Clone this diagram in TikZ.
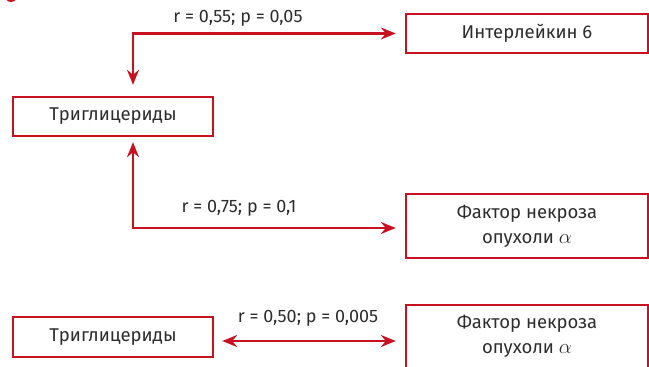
\documentclass[tikz,border=0pt]{standalone}
\usepackage{fontspec}
\setmainfont{Fira Sans}
\usetikzlibrary{arrows.meta}
\definecolor{boxred}{RGB}{200,18,34}
\definecolor{txt}{RGB}{45,45,45}
\newcommand{\alphabig}{{\fontsize{22}{25}\selectfont$\alpha$}}
\tikzset{
  box/.style={draw=boxred, line width=2.4pt, minimum height=39pt, inner sep=0pt, text=txt, align=center, font=\fontsize{18.5}{25}\selectfont},
  conn/.style={draw=boxred, line width=2.2pt, {Stealth[length=15pt,width=12pt,inset=5pt]}-{Stealth[length=15pt,width=12pt,inset=5pt]}},
  lbl/.style={text=txt, inner sep=0pt, font=\fontsize{18}{22}\selectfont}
}
\begin{document}
\begin{tikzpicture}[x=1pt,y=-1pt]
\useasboundingbox (0,0) rectangle (649,367);
\fill[boxred] (11,-4) circle (6);
\node[box, minimum width=242pt] (il6) at (527,33.5) {Интерлейкин 6};
\node[box, minimum width=200pt] (tg1) at (113,116.5) {Триглицериды};
\node[box, minimum width=242pt, minimum height=64pt] (tnf1) at (527,226) {Фактор некроза\\опухоли \alphabig};
\node[box, minimum width=200pt, minimum height=40pt] (tg2) at (113,337) {Триглицериды};
\node[box, minimum width=242pt, minimum height=63pt] (tnf2) at (527,336.5) {Фактор некроза\\опухоли \alphabig};
\node[lbl] (l1) at (238,18) {r = 0,55; p = 0,05};
\node[lbl] (l2) at (239,208) {r = 0,75; p = 0,1};
\node[lbl] (l3) at (308,318) {r = 0,50; p = 0,005};
\draw[conn, shorten <=11pt, shorten >=9pt] ([xshift=20pt]tg1.north) |- (il6.west);
\draw[conn, shorten <=5pt, shorten >=9pt] ([xshift=20pt]tg1.south) |- ([yshift=-2pt]tnf1.west);
\draw[conn, shorten <=8pt, shorten >=9pt] ([yshift=-4pt]tg2.east) -- ([yshift=-4pt]tg2.east -| tnf2.west);
\end{tikzpicture}
\end{document}
